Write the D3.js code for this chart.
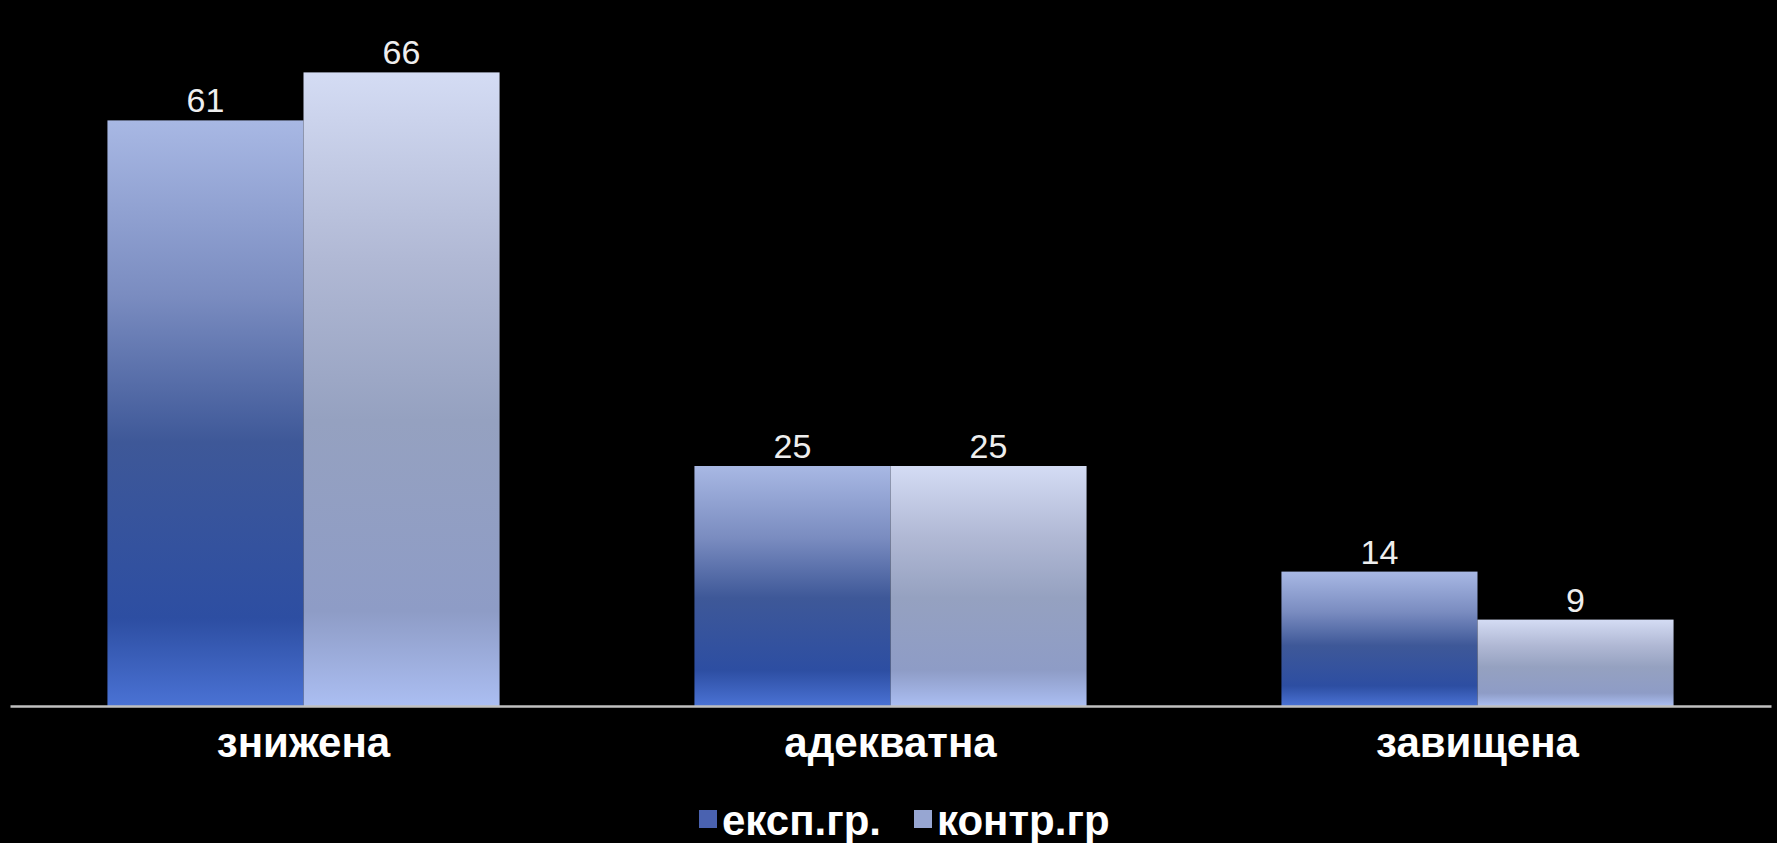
<!DOCTYPE html>
<html><head><meta charset="utf-8">
<script src="https://cdn.jsdelivr.net/npm/d3@7"></script>
<style>html,body{margin:0;padding:0;background:#000;overflow:hidden}</style>
</head><body>
<svg id="c" width="1777" height="843"></svg>
<script>
const categories = ["знижена", "адекватна", "завищена"];
const seriesNames = ["експ.гр.", "контр.гр"];
const expValues = [61, 25, 14];
const ctrlValues = [66, 25, 9];

const W = 1777, H = 843;
const svg = d3.select("#c");
svg.append("rect").attr("width", W).attr("height", H).attr("fill", "#000");

const defs = svg.append("defs");
const g1 = defs.append("linearGradient").attr("id","gExp").attr("x1",0).attr("y1",0).attr("x2",0).attr("y2",1);
[[0,"#a8b8e4"],[0.3,"#7a8cc0"],[0.55,"#3e5898"],[0.85,"#2d4ea2"],[1,"#4a72d4"]].forEach(s=>g1.append("stop").attr("offset",s[0]).attr("stop-color",s[1]));
const g2 = defs.append("linearGradient").attr("id","gCtrl").attr("x1",0).attr("y1",0).attr("x2",0).attr("y2",1);
[[0,"#d4dcf4"],[0.3,"#b0b8d4"],[0.55,"#95a1c0"],[0.85,"#8e9cc6"],[1,"#abbef2"]].forEach(s=>g2.append("stop").attr("offset",s[0]).attr("stop-color",s[1]));

const baseY = 706;
const x0 = d3.scaleBand().domain(categories).range([10, 1771]).paddingInner(0.332).paddingOuter(0.166);
const x1 = d3.scaleBand().domain(seriesNames).range([0, x0.bandwidth()]).padding(0);
const y = d3.scaleLinear().domain([0, 70]).range([baseY, baseY - 672]);

const series = [
  {name: seriesNames[0], values: expValues, fill: "url(#gExp)"},
  {name: seriesNames[1], values: ctrlValues, fill: "url(#gCtrl)"}
];

series.forEach(s => {
  const gs = svg.append("g");
  gs.selectAll("rect").data(categories).join("rect")
    .attr("x", (c) => x0(c) + x1(s.name))
    .attr("width", x1.bandwidth())
    .attr("y", (c,i) => y(s.values[i]))
    .attr("height", (c,i) => baseY - y(s.values[i]))
    .attr("fill", s.fill);
  gs.selectAll("text").data(categories).join("text")
    .attr("x", (c) => x0(c) + x1(s.name) + x1.bandwidth()/2)
    .attr("y", (c,i) => y(s.values[i]) - 8)
    .attr("text-anchor","middle")
    .attr("font-family","Liberation Sans, Arial, sans-serif")
    .attr("font-size", 34)
    .attr("fill","#eeeeee")
    .text((c,i) => s.values[i]);
});

// axis
const xAxis = d3.axisBottom(x0).tickSize(0).tickPadding(0);
const ax = svg.append("g").attr("transform", `translate(0,${baseY})`).call(xAxis);
ax.select(".domain").attr("stroke","#c0c0c0").attr("stroke-width",2.5);
ax.selectAll(".tick text")
  .attr("dy", 0).attr("y", 51)
  .attr("font-family","Liberation Sans, Arial, sans-serif")
  .attr("font-size", 42).attr("font-weight","bold").attr("fill","#ffffff");

// legend
const leg = svg.append("g");
const legX = [699, 914];
const fills = ["#4a62b0", "#97a6d2"];
seriesNames.forEach((n,i) => {
  leg.append("rect").attr("x", legX[i]).attr("y", 810).attr("width", 18).attr("height", 18).attr("fill", fills[i]);
  leg.append("text").attr("x", legX[i] + 23).attr("y", 835)
    .attr("font-family","Liberation Sans, Arial, sans-serif")
    .attr("font-size", 42).attr("font-weight","bold").attr("fill","#ffffff").text(n);
});
</script>
</body></html>
